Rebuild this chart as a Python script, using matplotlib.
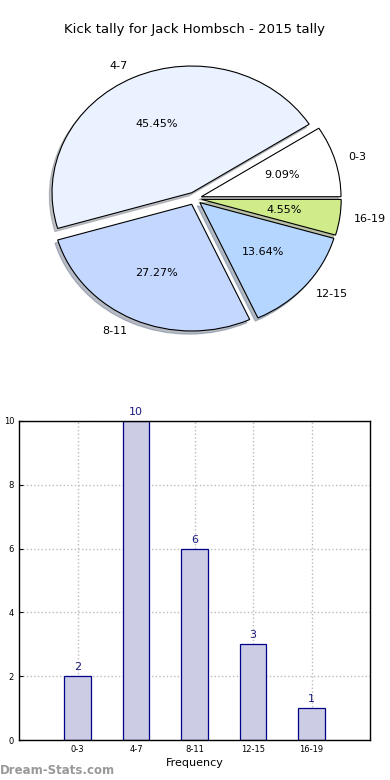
import matplotlib
matplotlib.use("Agg")
import matplotlib.pyplot as plt

title = "Kick tally for Jack Hombsch - 2015 tally"
categories = ["0-3", "4-7", "8-11", "12-15", "16-19"]
counts = [2, 10, 6, 3, 1]
pie_colors = ["#FFFFFF", "#EAF1FF", "#C4D8FF", "#B5D6FF", "#CFEB8A"]
explode = [0.05, 0.05, 0.05, 0.05, 0.05]
xlabel = "Frequency"
ylabel = "Total Amount"
yticks = [0, 2, 4, 6, 8, 10]
watermark = "Dream-Stats.com"

fig = plt.figure(figsize=(3.9, 7.8), dpi=100)

fig.text(0.5, 1 - 30 / 780, title, ha="center", va="center", fontsize=9.5)

# Pie chart (not equal aspect -> slightly elliptical as in the reference)
axp = fig.add_axes([20 / 390, 1 - 356.9 / 780, 349.2 / 390, 316.8 / 780])
wedges, texts, autotexts = axp.pie(
    counts, labels=categories, colors=pie_colors, explode=explode,
    autopct="%.2f%%", shadow={"ox": -0.014, "oy": -0.018, "shade": 0.45},
    startangle=0, counterclock=True,
    wedgeprops=dict(edgecolor="black", linewidth=0.8),
    textprops=dict(fontsize=8), labeldistance=1.1, pctdistance=0.6)
axp.set_aspect("auto")
axp.set_xlim(-1.25, 1.25)
axp.set_ylim(-1.25, 1.25)
axp.axis("off")

# Bar chart
axb = fig.add_axes([19 / 390, 40 / 780, 351 / 390, 319 / 780])
x = list(range(len(categories)))
bars = axb.bar(x, counts, width=0.45, color="#CCCCE4", edgecolor="#00008B",
               linewidth=0.9, zorder=2)
for xi, c in zip(x, counts):
    axb.text(xi, c + 0.12, str(c), ha="center", va="bottom", fontsize=8,
             color="#1A1A80", zorder=3)
axb.set_xlim(-1, 5)
axb.set_ylim(0, 10)
axb.set_xticks(x)
axb.set_xticklabels(categories)
axb.set_yticks(yticks)
axb.tick_params(labelsize=6, direction="in", length=3)
axb.grid(True, linestyle=":", color="#BBBBBB", linewidth=1.0, zorder=0)
axb.set_axisbelow(True)
for sp in axb.spines.values():
    sp.set_linewidth(1.0)
axb.set_xlabel(xlabel, fontsize=8, labelpad=3)
fig.text(-4 / 390, 1 - 580 / 780, ylabel,
         rotation=90, ha="center", va="center", fontsize=8)

fig.text(0 / 390, 1 - 771 / 780, watermark, ha="left", va="center",
         fontsize=8.5, color="#999999", fontweight="bold")

fig.savefig("out.png", dpi=100)
